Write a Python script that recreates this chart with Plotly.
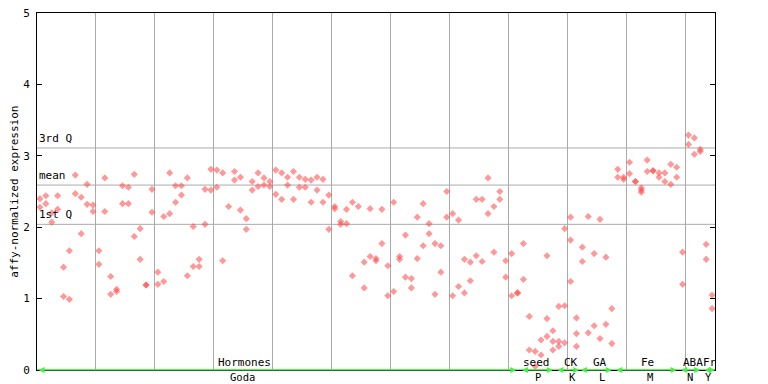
import plotly.graph_objects as go

# Expression values per sample (replicates)
values = [
    [2.40, 2.28], [2.44, 2.33], [2.20, 2.07], [2.44, 2.25], [1.44, 1.03], [1.67, 0.99], [2.73, 2.47], [2.42, 1.91], [2.60, 2.32], [2.31, 2.22],
    [1.67, 1.48], [2.69, 2.22], [1.31, 1.06], [1.13, 1.10], [2.58, 2.33], [2.56, 2.33], [2.74, 1.87], [1.98, 1.55], [1.19, 1.19], [2.53, 2.21],
    [1.37, 1.20], [2.15, 1.24], [2.76, 2.19], [2.58, 2.35], [2.58, 2.45], [2.69, 1.32], [2.01, 1.45], [1.55, 1.45], [2.53, 2.04], [2.81, 2.52],
    [2.80, 2.56], [2.76, 1.53], [2.29], [2.78, 2.66], [2.70, 2.24], [2.12, 1.97], [2.64, 2.52], [2.76, 2.57], [2.69, 2.59], [2.64, 2.57],
    [2.80, 2.46], [2.76, 2.39], [2.70, 2.59], [2.78, 2.39], [2.70, 2.56], [2.67, 2.56], [2.66, 2.35], [2.70, 2.52], [2.67, 2.35], [2.45, 1.97],
    [2.29, 2.26], [2.08, 2.04], [2.25, 2.05], [2.35, 1.32], [2.29], [1.51, 1.15], [2.26, 1.59], [1.56, 1.53], [2.25, 1.77], [1.46, 1.04],
    [2.35, 1.10], [1.59, 1.55], [1.89, 1.30], [1.28, 1.15], [2.14, 1.56], [2.33, 1.74], [2.05, 1.91], [1.77, 1.06], [1.74, 1.37], [2.50, 2.14],
    [2.19, 1.04], [2.10, 1.17], [1.55, 1.08], [1.51, 1.25], [2.39, 1.60], [2.39, 1.52], [2.69, 2.19], [2.29, 1.65], [2.50, 2.39], [1.53, 1.30],
    [1.63, 1.04], [1.08, 1.08], [1.77, 1.27], [0.75, 0.28], [0.26, 0.05], [0.42, 0.21], [1.60, 0.72, 0.47], [0.55, 0.40, 0.28], [0.89, 0.40, 0.33], [1.98, 0.90, 0.38],
    [2.14, 1.82, 1.24], [0.73, 0.51, 0.33], [1.72, 1.52], [2.15, 0.52], [1.63, 0.62], [2.11, 0.44], [1.58, 0.64], [0.86, 0.37], [2.81, 2.70], [2.70, 2.67],
    [2.91, 2.75], [2.64, 2.64], [2.55, 2.52, 2.49], [2.94, 2.78], [2.79, 2.79], [2.76, 2.70], [2.76, 2.64], [2.88, 2.60], [2.84, 2.70], [1.65, 1.20],
    [3.29, 3.16], [3.25, 3.02], [3.09, 3.06], [1.76, 1.55], [1.05, 0.86],
]

# Summary lines
q3_value = 3.11
mean_value = 2.59
q1_value = 2.04

# Experiment groups
group_top = ["Hormones", "seed", "CK", "GA", "Fe", "ABA", "Fr"]
group_bottom = ["Goda", "P", "K", "L", "M", "N", "Y"]
group_start = [0, 82, 88, 92, 98, 109, 113]
group_end = [81.3, 87.5, 92, 97.5, 108.5, 112.5, 115]
top_label_pos = [35.2, 84.7, 90.6, 95.5, 103.5, 111.2, 114.2]
bottom_label_pos = [34.8, 84.9, 90.9, 95.8, 103.9, 110.8, 113.9]

n_samples = len(values)
xs, ys = [], []
for i, reps in enumerate(values):
    for v in reps:
        xs.append(i + 0.5)
        ys.append(v)

FONT = "DejaVu Sans Mono"
GREY = "#aaaaaa"
GREEN = "#44ee44"

fig = go.Figure()
fig.add_trace(go.Scatter(
    x=xs, y=ys, mode="markers",
    marker=dict(symbol="diamond", size=5.5, color="rgba(255,70,70,0.55)", line=dict(width=0)),
    showlegend=False, hoverinfo="x+y",
))

shapes = []
annotations = []
for val, lab in [(q3_value, "3rd Q"), (mean_value, "mean"), (q1_value, "1st Q")]:
    shapes.append(dict(type="line", xref="paper", yref="y", x0=0, x1=1, y0=val, y1=val,
                       line=dict(color=GREY, width=1), layer="below"))
    annotations.append(dict(text=lab, xref="paper", yref="y", x=0.0, y=val, xanchor="left",
                            yanchor="bottom", showarrow=False, xshift=0, yshift=1,
                            font=dict(family=FONT, size=11, color="black")))

# green line along bottom
shapes.append(dict(type="line", xref="paper", yref="y", x0=0, x1=1, y0=0, y1=0,
                   line=dict(color=GREEN, width=1.5)))

for t, b, s, e, tp, bp in zip(group_top, group_bottom, group_start, group_end, top_label_pos, bottom_label_pos):
    annotations.append(dict(x=e, y=0, ax=s, ay=0, xref="x", yref="y", axref="x", ayref="y",
                            text="", showarrow=True, arrowhead=2, arrowside="end+start",
                            arrowsize=1, arrowwidth=1.2, arrowcolor=GREEN))
    annotations.append(dict(text=t, x=tp, y=0, xref="x", yref="y", yanchor="bottom",
                            showarrow=False, yshift=-1,
                            font=dict(family=FONT, size=11, color="black")))
    annotations.append(dict(text=b, x=bp, y=0, xref="x", yref="y", yanchor="top",
                            showarrow=False, yshift=1,
                            font=dict(family=FONT, size=10.5, color="black")))

annotations.append(dict(text="affy-normalized expression", xref="paper", yref="paper",
                        x=-0.0335, y=0.5, xanchor="center", yanchor="middle", textangle=-90,
                        showarrow=False, font=dict(family=FONT, size=11, color="black")))

fig.update_layout(
    width=760, height=376,
    margin=dict(l=29, r=53, t=5, b=14, autoexpand=False),
    paper_bgcolor="white", plot_bgcolor="white",
    shapes=shapes, annotations=annotations,
    font=dict(family=FONT, size=11, color="black"),
    xaxis=dict(range=[0, n_samples], dtick=10, tick0=0, showgrid=True, gridcolor=GREY, gridwidth=1,
               showticklabels=False, ticks="", zeroline=False, showline=True, linecolor="black",
               linewidth=1, mirror=True),
    yaxis=dict(range=[0, 5], dtick=1, showgrid=False, zeroline=False, showline=True,
               linecolor="black", linewidth=1, mirror="ticks", ticks="inside", ticklen=5,
               tickcolor="black", tickfont=dict(family=FONT, size=11), ticklabelstandoff=4,
               ticklabeloverflow="allow"),
)

fig.write_html("out.html")
